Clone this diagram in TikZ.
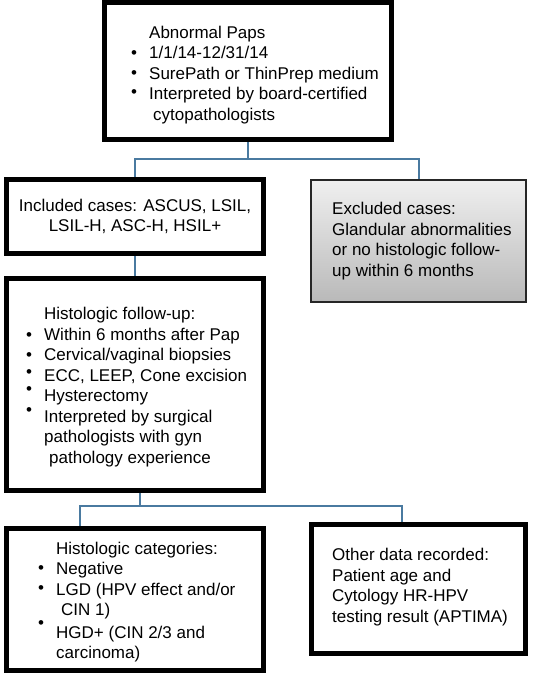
\documentclass[tikz,border=0pt]{standalone}
\usepackage{fontspec}
\setmainfont{Liberation Sans}
\usetikzlibrary{positioning}
\usetikzlibrary{backgrounds}
\definecolor{linkblue}{RGB}{74,122,160}
\tikzset{
    box/.style={draw=black, line width=5pt, inner sep=0pt, fill=white},
    greybox/.style={draw=black!85, line width=2pt, inner sep=0pt, top color=gray!12, bottom color=gray!55},
    link/.style={draw=linkblue, line width=2pt},
    txt/.style={anchor=west, align=left, inner sep=0pt, font=\fontsize{17}{20.5}\selectfont},
  }
\newcommand\bul[1][0pt]{\llap{\raisebox{#1}{\textbullet}\hspace{12pt}}}

\begin{document}
\begin{tikzpicture}[x=1pt,y=-1pt]
	\useasboundingbox (0,0) rectangle (533,675);

	% boxes
	\node[box, minimum width=287pt, minimum height=137pt] (paps) at (248,71) {};
	\node[box, minimum width=257pt, minimum height=74pt] (incl) at (135,216.5) {};
	\node[greybox, minimum width=215pt, minimum height=122pt] (excl) at (418.5,241) {};
	\node[box, minimum width=257pt, minimum height=212pt] (histo) at (135,384.5) {};
	\node[box, minimum width=257pt, minimum height=142pt] (cats) at (135,599.5) {};
	\node[box, minimum width=214pt, minimum height=129pt] (other) at (418.5,589) {};

	% texts
	\node[txt] (paps-txt) at (149,75) {Abnormal Paps\\ \bul 1/1/14-12/31/14\\ \bul[1pt]SurePath or ThinPrep medium\\ \bul[2pt]Interpreted by board-certified\\ \hspace*{4pt}cytopathologists};
	\node[txt, anchor=center, align=center] (incl-txt) at (135,216.5) {Included cases: ASCUS, LSIL,\\ LSIL-H, ASC-H, HSIL+};
	\node[txt] (excl-txt) at (332,241) {Excluded cases:\\ Glandular abnormalities\\ or no histologic follow-\\ up within 6 months};
	\node[txt] (histo-txt) at (44,387) {Histologic follow-up:\\ \bul Within 6 months after Pap\\ \bul Cervical/vaginal biopsies\\ \bul[4pt]ECC, LEEP, Cone excision\\ \bul[7pt]Hysterectomy\\ \bul[7pt]Interpreted by surgical\\ pathologists with gyn\\ \hspace*{5pt}pathology experience};
	\node[txt] (cats-txt) at (56,602) {Histologic categories:\\ \bul[1pt]Negative\\ \bul[2pt]LGD (HPV effect and/or\\ \hspace*{5pt}CIN 1)\\ \bul[10pt]HGD+ (CIN 2/3 and\\ carcinoma)};
	\node[txt] (other-txt) at (332,587) {Other data recorded:\\ Patient age and\\ Cytology HR-HPV\\ testing result (APTIMA)};

	% connectors
	\coordinate (split1) at (248,159);
	\coordinate (split2) at (140,506);
	\begin{scope}[on background layer]
		\draw[link] (paps) -- (split1);
		\draw[link] (incl.north) |- (split1) -| (excl.north);
		\draw[link] (incl) -- (histo);
		\draw[link] (split2 |- histo.south) -- (split2);
		\draw[link] ([xshift=-55pt]cats.north) |- (split2) -| ([xshift=-16.5pt]other.north);
	\end{scope}
\end{tikzpicture}
\end{document}
